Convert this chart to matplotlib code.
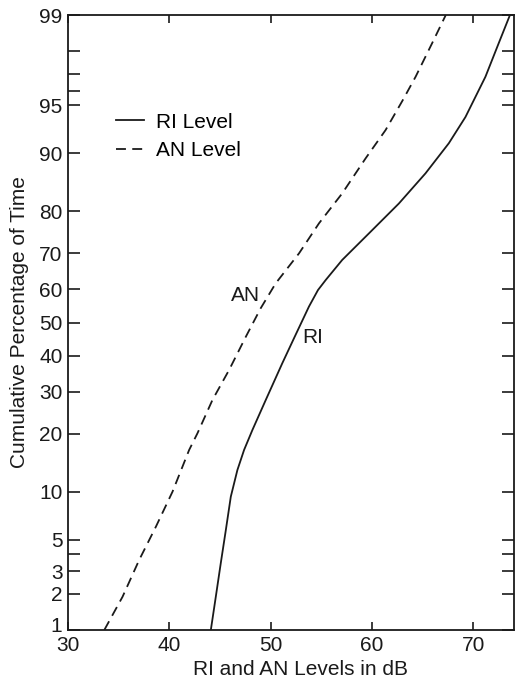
"""
Cumulative distribution of RI and AN levels on a normal probability scale
"""
import numpy as np
import matplotlib
matplotlib.use("Agg")
import matplotlib.pyplot as plt
import matplotlib.transforms as mtransforms
from statistics import NormalDist

plt.rcParams['font.family'] = ['Liberation Sans', 'DejaVu Sans']

# Data (level in dB, cumulative percent)
ri_level = [44.09, 44.58, 45.07, 45.57, 46.06, 46.71, 47.37, 48.19, 49.51, 51.14, 52.30,
            53.77, 54.66, 55.42, 57.05, 59.69, 62.64, 65.27, 67.57, 69.21, 71.18, 72.49, 73.6]
ri_pct = [1, 1.90, 3.43, 5.82, 9.38, 13.22, 16.75, 20.8, 27.9, 37.9, 45.3,
          54.8, 59.7, 62.6, 68.2, 75.0, 81.6, 87.05, 91.25, 94.0, 96.85, 98.27, 99]

an_level = [33.58, 35.38, 37.02, 38.67, 40.31, 41.95, 42.77, 44.25, 45.89, 47.54, 49.01,
            50.49, 52.79, 54.76, 57.05, 59.36, 61.33, 63.03, 64.29, 65.92, 67.27]
an_pct = [1, 1.90, 3.62, 6.12, 10.03, 16.75, 20.1, 27.9, 35.97, 45.7, 54.3,
          61.66, 69.96, 77.35, 83.57, 89.29, 92.73, 95.38, 96.85, 98.27, 99]

y_ticks = [1, 2, 3, 4, 5, 10, 20, 30, 40, 50, 60, 70, 80, 90, 95, 96, 97, 98, 99]
y_ticklabels = ["1", "2", "3", "", "5", "10", "20", "30", "40", "50", "60",
                "70", "80", "90", "95", "", "", "", "99"]
x_ticks = [30, 40, 50, 60, 70]

_nd = NormalDist()
_ppf = np.vectorize(lambda v: _nd.inv_cdf(v / 100.0), otypes=[float])
_cdf = np.vectorize(lambda v: _nd.cdf(v) * 100.0, otypes=[float])


def prob_fwd(p):
    p = np.clip(np.asarray(p, dtype=float), 1e-4, 100 - 1e-4)
    return _ppf(p)


def prob_inv(z):
    return _cdf(np.asarray(z, dtype=float))


fig = plt.figure(figsize=(5.18, 6.83), dpi=100)
ax = fig.add_axes([0.1313, 0.0776, 0.8610, 0.9004])
ax.set_yscale('function', functions=(prob_fwd, prob_inv))

col = '#1a1a1a'
fs = 15
ax.plot(ri_level, ri_pct, color=col, lw=1.3, label='RI Level', solid_joinstyle='round')
ax.plot(an_level, an_pct, color=col, lw=1.3, dashes=(5.5, 3.5), label='AN Level')

ax.text(54.1, 45.6, 'RI', fontsize=fs, color=col, ha='center', va='center')
ax.text(47.55, 58.2, 'AN', fontsize=fs, color=col, ha='center', va='center')

ax.set_xlim(30, 74)
ax.set_ylim(1, 99)
ax.set_xticks(x_ticks)
ax.set_yticks(y_ticks)
ax.set_yticklabels(y_ticklabels)
ax.yaxis.set_minor_locator(matplotlib.ticker.NullLocator())
ax.xaxis.set_minor_locator(matplotlib.ticker.NullLocator())

ax.tick_params(axis='x', direction='in', length=6, width=1.2, top=True,
               labelsize=fs, pad=4, colors=col)
ax.tick_params(axis='y', direction='in', length=8.7, width=1.2, right=True,
               labelsize=fs, pad=4, colors=col)
for s in ax.spines.values():
    s.set_linewidth(1.3)
    s.set_color(col)

# lift the "1" label a little so it clears the "30" below it
lbl = ax.get_yticklabels()[0]
lbl.set_transform(lbl.get_transform() +
                  mtransforms.ScaledTranslation(0, 4 / 72, fig.dpi_scale_trans))

ax.set_xlabel('RI and AN Levels in dB', fontsize=fs, color=col, labelpad=4, x=0.522)
ax.set_ylabel('Cumulative Percentage of Time', fontsize=fs, color=col, labelpad=7)

ax.legend(loc='upper left', bbox_to_anchor=(0.09, 0.855), frameon=False,
          fontsize=fs, handlelength=1.3, handletextpad=0.6, labelspacing=0.45,
          borderaxespad=0)

fig.savefig('out.png', dpi=100)
